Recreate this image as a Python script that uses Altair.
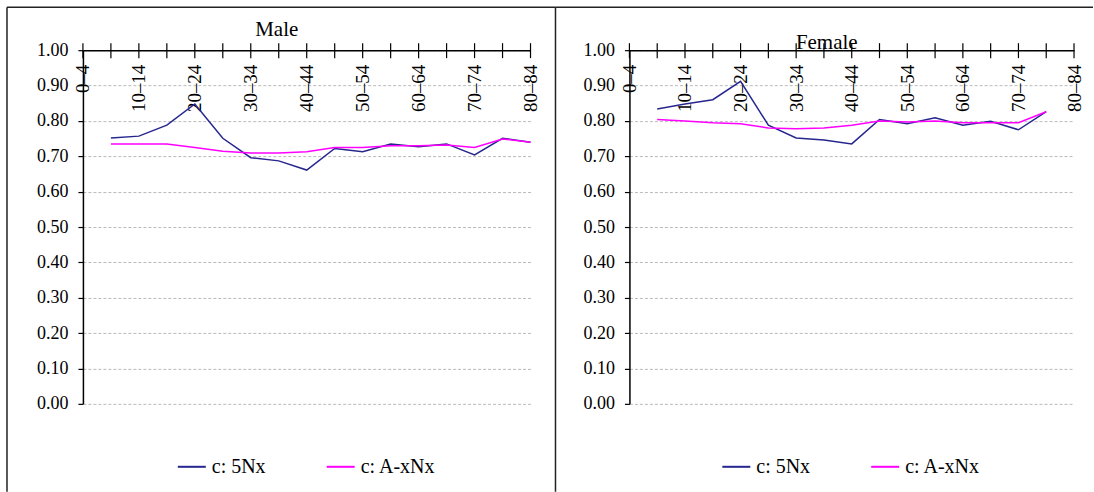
import altair as alt
import pandas as pd

AGES = ["0–4", "5–9", "10–14", "15–19", "20–24", "25–29", "30–34", "35–39", "40–44",
        "45–49", "50–54", "55–59", "60–64", "65–69", "70–74", "75–79", "80–84"]
SHOWN = ["0–4", "10–14", "20–24", "30–34", "40–44", "50–54", "60–64", "70–74", "80–84"]
SERIES = ["c: 5Nx", "c: A-xNx"]
COLORS = ["#26268f", "#ff00ff"]

# Male, from 5–9 to 80–84
male_5nx = [0.752, 0.757, 0.788, 0.848, 0.751, 0.696, 0.687, 0.661,
            0.722, 0.713, 0.735, 0.727, 0.735, 0.704, 0.751, 0.740]
male_axnx = [0.735, 0.735, 0.735, 0.725, 0.714, 0.709, 0.709, 0.713,
             0.725, 0.725, 0.730, 0.730, 0.732, 0.725, 0.749, 0.740]
# Female, from 5–9 to 75–79
female_5nx = [0.834, 0.848, 0.860, 0.912, 0.788, 0.752, 0.746, 0.735,
              0.804, 0.792, 0.809, 0.788, 0.799, 0.775, 0.826]
female_axnx = [0.804, 0.800, 0.795, 0.792, 0.780, 0.778, 0.780, 0.788,
               0.800, 0.797, 0.800, 0.795, 0.795, 0.795, 0.826]

Y_VALUES = [0.0, 0.1, 0.2, 0.3, 0.4, 0.5, 0.6, 0.7, 0.8, 0.9, 1.0]
FONT = "Liberation Serif"
H = 354


def long_table(v5, vax):
    rows = []
    for name, vals in zip(SERIES, [v5, vax]):
        for i, v in enumerate(vals):
            rows.append({"age": AGES[i + 1], "idx": i + 1, "series": name, "value": v})
    return pd.DataFrame(rows)


label_expr = "indexof([" + ",".join("'" + s + "'" for s in SHOWN) + "], datum.label) >= 0 ? datum.label : ''"


def panel(title, v5, vax, width, title_dx, title_dy, legend_x, frame_left, frame_right):
    df = long_table(v5, vax)
    xscale = alt.Scale(domain=AGES, type="point", padding=0)
    x = alt.X("age:N", scale=xscale, title=None,
              axis=alt.Axis(orient="top", domainColor="black", domainWidth=1.5,
                            ticks=False, tickSize=0, labelAngle=-90, labelAlign="right",
                            labelBaseline="middle", labelPadding=-14, labelFont=FONT,
                            labelFontSize=19, labelColor="black", labelExpr=label_expr,
                            labelOverlap=False, grid=False))
    y = alt.Y("value:Q", scale=alt.Scale(domain=[0, 1], nice=False, zero=True), title=None,
              axis=alt.Axis(orient="left", values=Y_VALUES, format=".2f", domainColor="black",
                            domainWidth=1.5, tickColor="black", tickSize=5, tickWidth=1.2,
                            labelPadding=10, labelFont=FONT, labelFontSize=18,
                            labelColor="black", grid=True, gridColor="#a8a8a8",
                            gridDash=[3, 2], gridWidth=0.8))
    lines = alt.Chart(df).mark_line(strokeWidth=1.5).encode(
        x=x, y=y,
        order=alt.Order("idx:Q"),
        color=alt.Color("series:N", scale=alt.Scale(domain=SERIES, range=COLORS),
                        legend=alt.Legend(orient="none", legendX=legend_x, legendY=402,
                                          direction="horizontal", title=None,
                                          symbolType="stroke", symbolStrokeWidth=2,
                                          symbolSize=784, labelFont=FONT, labelFontSize=20,
                                          labelColor="black", columnPadding=57,
                                          labelOffset=5, padding=0)),
    )
    ticks = alt.Chart(pd.DataFrame({"age": AGES})).mark_rule(color="black", strokeWidth=1.2).encode(
        x=x,
        y=alt.value(-7), y2=alt.value(8),
    )
    one = pd.DataFrame({"k": [0]})
    top_line = alt.Chart(one).mark_rule(color="#222222", strokeWidth=1.5).encode(
        x=alt.value(frame_left), x2=alt.value(frame_right), y=alt.value(-43))
    left_line = alt.Chart(one).mark_rule(color="#222222", strokeWidth=1.5).encode(
        x=alt.value(frame_left), y=alt.value(-43), y2=alt.value(442))
    return alt.layer(left_line, top_line, ticks, lines).properties(
        width=width, height=H,
        title=alt.TitleParams(title, font=FONT, fontSize=21, fontWeight="normal",
                              color="black", anchor="middle", frame="group",
                              baseline="alphabetic", offset=0, dx=title_dx, dy=title_dy),
    )


male = panel("Male", male_5nx, male_axnx, 448, -30, 51, 94, -76, 473)
female = panel("Female", female_5nx, female_axnx, 445, -25, 64, 92, -74, 464)

chart = alt.hconcat(male, female, spacing=99, bounds="flush").resolve_legend(
    color="independent"
).properties(
    padding={"left": 6, "top": 6, "right": 0, "bottom": 0},
    background="white",
).configure_view(stroke=None)

chart.save("out.html", embed_options={"renderer": "svg", "actions": False})
